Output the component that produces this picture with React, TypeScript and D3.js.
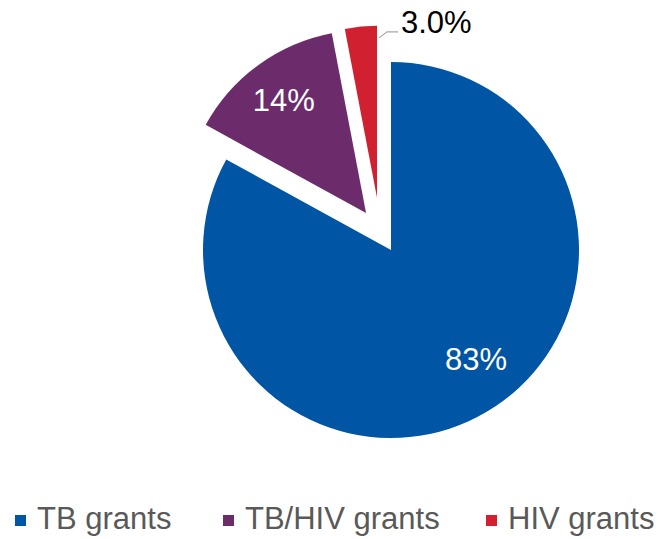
import React from "react";
import * as d3 from "d3";

const categories = ["TB grants", "TB/HIV grants", "HIV grants"];
const shares = [83, 14, 3];
const valueLabels = ["83%", "14%", "3.0%"];
const colors = ["#0055a5", "#6c2c6b", "#d1202f"];

const W = 662;
const H = 539;
const CX = 391;
const CY = 250;
// per-slice layout (radius, explosion distance / direction in degrees)
const radii = [188, 183, 172];
const explodeDist = [0, 44.6, 54];
const explodeDir = [0, 326, 345];
const labelRadius = [138, 140, 0];
const labelDir: (number | null)[] = [142, null, null];
const legendX = [15, 223, 486];
const FONT = "'Liberation Sans', Arial, Helvetica, sans-serif";

const rad = (deg: number) => (deg * Math.PI) / 180;
const polar = (r: number, deg: number): [number, number] => [
  r * Math.sin(rad(deg)),
  -r * Math.cos(rad(deg)),
];

export default function App() {
  const pie = d3
    .pie<number>()
    .sort(null)
    .value((d) => d)
    .startAngle(0)
    .endAngle(2 * Math.PI);
  const arcsData = pie(shares);

  return (
    <svg
      width={W}
      height={H}
      style={{ position: "absolute", left: 0, top: 0, background: "#fff" }}
      fontFamily={FONT}
    >
      {arcsData.map((a, i) => {
        const [ox, oy] = polar(explodeDist[i], explodeDir[i]);
        const arc = d3.arc<d3.PieArcDatum<number>>().innerRadius(0).outerRadius(radii[i]);
        const mid = ((a.startAngle + a.endAngle) / 2) * (180 / Math.PI);
        const ld = labelDir[i] ?? mid;
        const [lx, ly] = polar(labelRadius[i], ld);
        return (
          <g key={i} transform={`translate(${CX + ox},${CY + oy})`}>
            <path d={arc(a) || ""} fill={colors[i]} />
            {labelRadius[i] > 0 && (
              <text
                x={lx}
                y={ly}
                dy="0.36em"
                textAnchor="middle"
                fontSize={31}
                fill="#ffffff"
              >
                {valueLabels[i]}
              </text>
            )}
          </g>
        );
      })}
      {(() => {
        const i = 2;
        const [ox, oy] = polar(explodeDist[i], explodeDir[i]);
        const tipX = CX + ox;
        const tipY = CY + oy;
        const endDeg = (arcsData[i].endAngle * 180) / Math.PI;
        const [sx, sy] = polar(radii[i] * 0.93, endDeg);
        const x0 = tipX + sx + 2;
        const y0 = tipY + sy;
        const x1 = x0 + 8;
        const y1 = y0 - 6;
        const x2 = x1 + 11;
        return (
          <g>
            <polyline
              points={`${x0},${y0} ${x1},${y1} ${x2},${y1}`}
              fill="none"
              stroke="#a6a6a6"
              strokeWidth={1.2}
            />
            <text x={x2 + 3} y={y1 + 1} fontSize={31} fill="#000">
              {valueLabels[i]}
            </text>
          </g>
        );
      })()}
      {categories.map((c, i) => (
        <g key={c}>
          <rect x={legendX[i]} y={515} width={11} height={11} fill={colors[i]} />
          <text x={legendX[i] + 22} y={529} fontSize={31} fill="#595959">
            {c}
          </text>
        </g>
      ))}
    </svg>
  );
}
